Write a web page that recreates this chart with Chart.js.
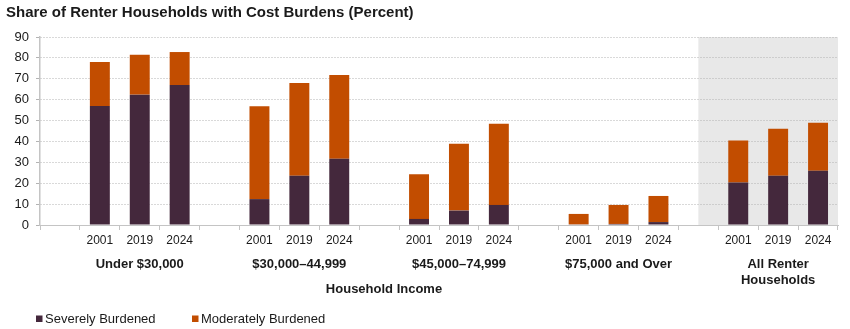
<!DOCTYPE html>
<html>
<head>
<meta charset="utf-8">
<script src="https://cdn.jsdelivr.net/npm/chart.js@4/dist/chart.umd.min.js"></script>
<style>
  html, body { margin: 0; padding: 0; background: #fff; }
  #wrap { width: 850px; height: 329px; position: relative; }
</style>
</head>
<body>
<div id="wrap"><canvas id="chart" width="850" height="329"></canvas></div>
<script>
const title = 'Share of Renter Households with Cost Burdens (Percent)';
const axisTitle = 'Household Income';

// one blank slot before each group of three years
const years = ['', '2001', '2019', '2024', '', '2001', '2019', '2024', '', '2001', '2019', '2024',
               '', '2001', '2019', '2024', '', '2001', '2019', '2024'];
const groups = ['Under $30,000', '$30,000–44,999', '$45,000–74,999', '$75,000 and Over', ['All Renter', 'Households']];

const severe   = [null, 57.0, 62.4, 67.0, null, 12.4, 23.6, 31.7, null, 2.9, 6.9, 9.6,
                  null, 0.3, 0.5, 1.4, null, 20.3, 23.6, 26.0];
const moderate = [null, 21.0, 19.1, 15.8, null, 44.4, 44.4, 40.1, null, 21.4, 32.0, 38.9,
                  null, 5.0, 9.1, 12.5, null, 20.2, 22.5, 23.0];

const DARK = '#44283C';
const ORANGE = '#C24D00';
const TEXT = '#1a1a1a';
const GRID = '#B3B3B3';
const AXIS = '#C4C4C4';

// grey panel behind "All Renter Households"
const shadePlugin = {
  id: 'shade',
  beforeDraw(chart) {
    const { ctx, chartArea, scales } = chart;
    const x0 = scales.x.getPixelForValue(16);
    ctx.save();
    ctx.fillStyle = '#E8E8E8';
    ctx.fillRect(x0, chartArea.top, chartArea.right - x0, chartArea.bottom - chartArea.top);
    ctx.restore();
  }
};

const textPlugin = {
  id: 'texts',
  afterDraw(chart) {
    const { ctx, scales } = chart;
    ctx.save();
    ctx.fillStyle = TEXT;
    ctx.textBaseline = 'middle';

    ctx.font = 'bold 15px "Liberation Sans", Arial, sans-serif';
    ctx.textAlign = 'left';
    ctx.fillText(title, 6, 13);

    ctx.font = 'bold 13px "Liberation Sans", Arial, sans-serif';
    ctx.textAlign = 'center';
    groups.forEach((g, i) => {
      const x = scales.x.getPixelForValue(i * 4 + 2);
      const lines = Array.isArray(g) ? g : [g];
      lines.forEach((l, j) => ctx.fillText(l, x, 264 + j * 16));
    });
    ctx.fillText(axisTitle, 384, 289);

    // legend
    const items = chart.data.datasets;
    const lx = [36, 192];
    ctx.font = '13px "Liberation Sans", Arial, sans-serif';
    ctx.textAlign = 'left';
    items.forEach((ds, i) => {
      ctx.fillStyle = ds.backgroundColor;
      ctx.fillRect(lx[i], 315.5, 6.5, 6.5);
      ctx.fillStyle = TEXT;
      ctx.fillText(ds.label, lx[i] + 9, 319);
    });
    ctx.restore();
  }
};

new Chart(document.getElementById('chart'), {
  type: 'bar',
  data: {
    labels: years,
    datasets: [
      { label: 'Severely Burdened', data: severe, backgroundColor: DARK },
      { label: 'Moderately Burdened', data: moderate, backgroundColor: ORANGE }
    ]
  },
  options: {
    responsive: false,
    animation: false,
    events: [],
    layout: { padding: { top: 37, right: 12, left: 0, bottom: 0 } },
    datasets: { bar: { barPercentage: 0.5, categoryPercentage: 1.0 } },
    plugins: {
      legend: { display: false },
      tooltip: { enabled: false },
      title: { display: false }
    },
    scales: {
      x: {
        stacked: true,
        afterFit(s) { s.height = 104; },
        grid: { offset: true, drawOnChartArea: false, drawTicks: true, tickLength: 5, color: AXIS },
        border: { display: true, color: AXIS },
        ticks: {
          autoSkip: false, maxRotation: 0, padding: 3,
          color: TEXT, font: { family: '"Liberation Sans", Arial, sans-serif', size: 12 }
        }
      },
      y: {
        stacked: true,
        min: 0, max: 90,
        afterFit(s) { s.width = 40; },
        grid: { color: GRID, tickLength: 4 },
        border: { display: true, color: AXIS, width: 1.5, dash: [1, 2] },
        ticks: {
          stepSize: 10, padding: 7,
          color: TEXT, font: { family: '"Liberation Sans", Arial, sans-serif', size: 13 }
        }
      }
    }
  },
  plugins: [shadePlugin, textPlugin]
});
</script>
</body>
</html>
